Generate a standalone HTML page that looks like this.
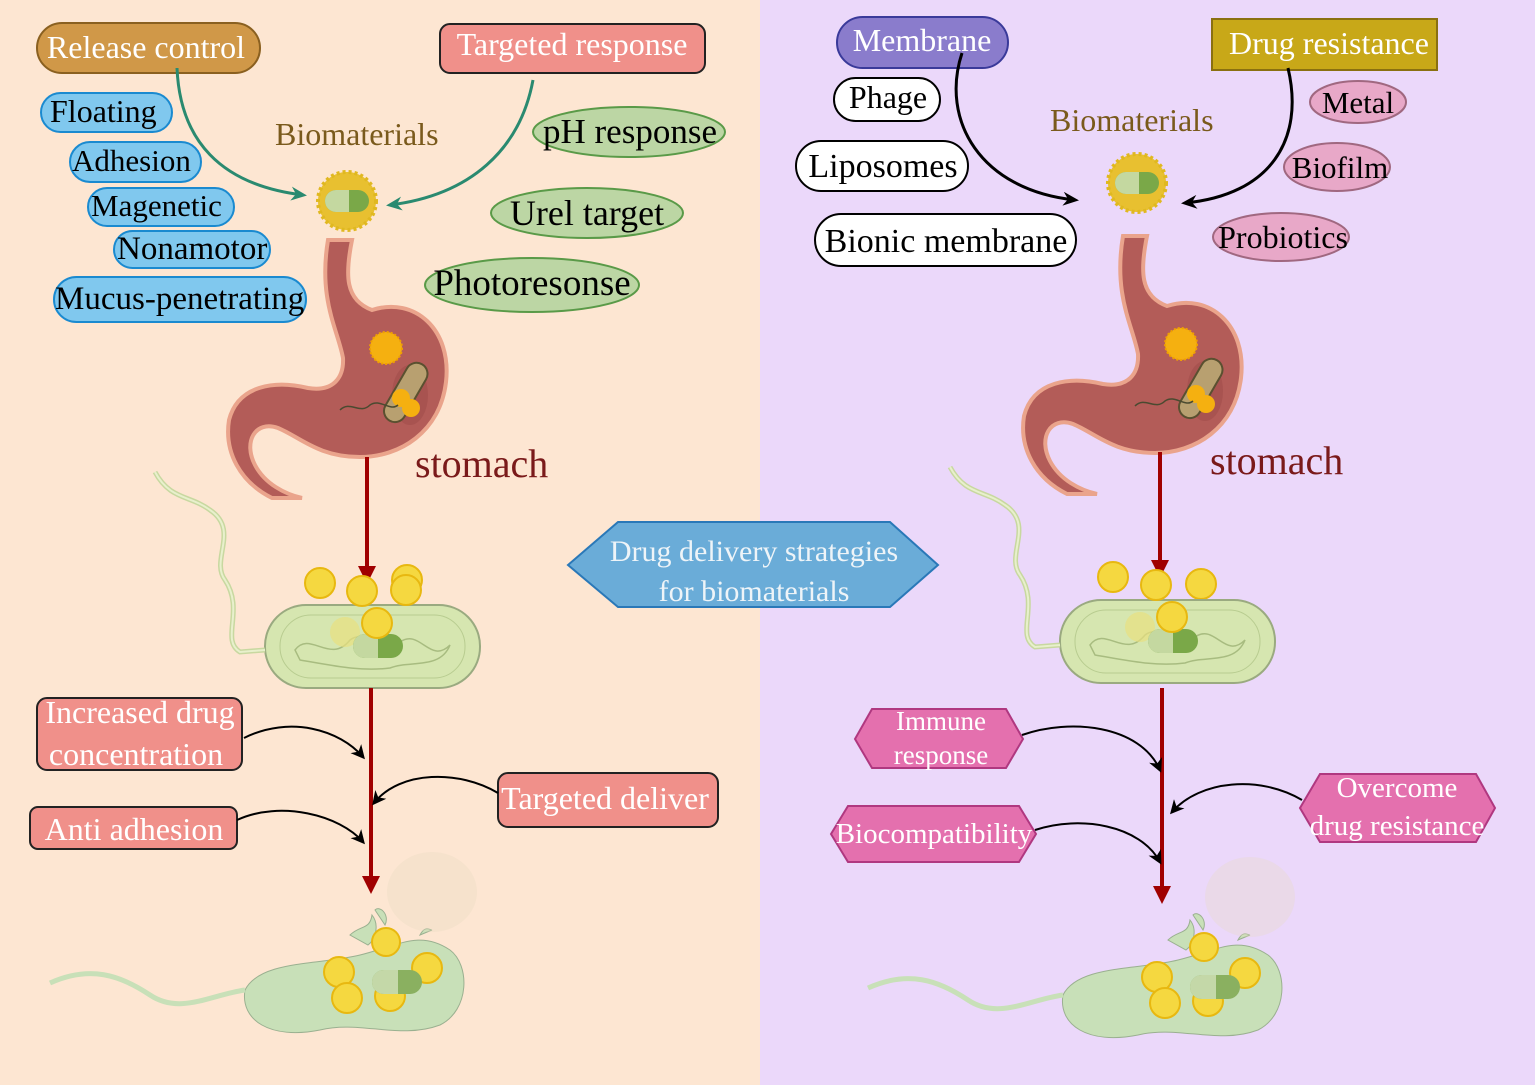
<!DOCTYPE html>
<html><head><meta charset="utf-8"><style>
html,body{margin:0;padding:0;width:1535px;height:1085px;overflow:hidden}
svg{display:block}
text{font-family:"Liberation Serif",serif}
</style></head><body>
<svg width="1535" height="1085" viewBox="0 0 1535 1085" xmlns="http://www.w3.org/2000/svg">
<defs>
<marker id="aht" markerWidth="16" markerHeight="14" refX="12" refY="7" orient="auto" markerUnits="userSpaceOnUse"><path d="M0,0 L16,7 L0,14 L5,7 Z" fill="#2a8a70"/></marker>
<marker id="ahb" markerWidth="16" markerHeight="14" refX="12" refY="7" orient="auto" markerUnits="userSpaceOnUse"><path d="M0,0 L16,7 L0,14 L5,7 Z" fill="#000"/></marker>
<marker id="ahr" markerWidth="24" markerHeight="18" refX="14" refY="9" orient="auto" markerUnits="userSpaceOnUse"><path d="M0,0 L18,9 L0,18 Z" fill="#a00000"/></marker>
<marker id="ahk" markerWidth="14" markerHeight="14" refX="11" refY="7" orient="auto" markerUnits="userSpaceOnUse"><path d="M0,0 L14,7 L0,14 L4,7 Z" fill="#000"/></marker>
<g id="capsule">
<circle cx="0" cy="0" r="29" fill="#e8c030" stroke="#e0b820" stroke-width="4" stroke-dasharray="3 3"/>
<rect x="-22" y="-11" width="44" height="22" rx="11" fill="#7aa848"/>
<path d="M-11,-11 L2,-11 L2,11 L-11,11 A11,11 0 0 1 -11,-11Z" fill="#c4d8a0"/>
</g>
<g id="stomach">
<path d="M328,240 L352,240 C345,275 345,300 372,310 C415,296 452,330 446,382 C440,432 400,457 360,457 C318,457 300,437 278,428 C255,420 243,442 255,465 C265,484 285,494 302,498 L272,498 C240,482 224,452 229,420 C238,385 275,380 308,388 C333,392 344,378 343,358 C338,330 318,300 328,240 Z" fill="#b35c58" stroke="#eaa48c" stroke-width="4"/>
<ellipse cx="410" cy="395" rx="18" ry="30" fill="#9d4a48" opacity="0.5"/>
<circle cx="386" cy="348" r="16" fill="#f5b010" stroke="#f0a000" stroke-width="2" stroke-dasharray="2 2"/>
<rect x="395" y="360" width="22" height="65" rx="11" transform="rotate(30 406 392)" fill="#b8a070" stroke="#5a5030" stroke-width="2"/>
<circle cx="401" cy="398" r="9" fill="#f5b010"/><circle cx="411" cy="408" r="9" fill="#f5b010"/>
<path d="M340,410 C350,400 360,415 370,405 C380,398 390,412 398,405" fill="none" stroke="#4a4a30" stroke-width="1.5"/>
</g>
<g id="bact">
<rect x="265" y="605" width="215" height="83" rx="41" fill="#d6e6b0" stroke="#9aaa80" stroke-width="2"/>
<rect x="280" y="615" width="185" height="63" rx="31" fill="none" stroke="#b8cc90" stroke-width="1"/>
<path d="M295,650 C310,630 330,665 350,640 C370,625 380,668 400,642 C420,628 430,665 450,645 C440,670 410,660 390,668 C360,672 330,665 300,660Z" fill="none" stroke="#a8bc80" stroke-width="1.5"/>
<circle cx="345" cy="632" r="15" fill="#e8e080" opacity="0.7"/>
<rect x="353" y="634" width="50" height="24" rx="12" fill="#7aa848"/>
<path d="M365,634 L378,634 L378,658 L365,658 A12,12 0 0 1 365,634Z" fill="#c4d8a0"/>
<path d="M265,650 L240,652 C220,640 245,610 225,580 C210,560 240,530 210,510 C190,495 170,500 155,472" fill="none" stroke="#c8d8a0" stroke-width="5"/>
<path d="M265,650 L240,652 C220,640 245,610 225,580 C210,560 240,530 210,510 C190,495 170,500 155,472" fill="none" stroke="#e8f0cc" stroke-width="2"/>
</g>
<g id="dead">
<path d="M245,990 C260,960 320,965 360,955 C400,945 420,930 450,950 C470,965 470,1010 440,1025 C400,1040 360,1020 320,1030 C270,1040 240,1020 245,990Z" fill="#c8e0b8" stroke="#9ab090" stroke-width="1"/>
<path d="M50,983 C90,965 120,975 150,995 C180,1015 210,995 245,990" fill="none" stroke="#c8e0b8" stroke-width="5"/>
<path d="M350,935 C360,925 370,930 372,915 C380,925 375,940 368,945Z M375,910 C380,905 390,915 385,925Z M420,935 C425,925 430,930 432,930Z" fill="#c8e0b8" stroke="#9ab090" stroke-width="1"/>
<ellipse cx="432" cy="892" rx="45" ry="40" fill="#e8dcc0" opacity="0.3"/>
<circle cx="386" cy="942" r="14" fill="#f5d840" stroke="#e8b810" stroke-width="2"/>
<circle cx="339" cy="972" r="15" fill="#f5d840" stroke="#e8b810" stroke-width="2"/>
<circle cx="347" cy="998" r="15" fill="#f5d840" stroke="#e8b810" stroke-width="2"/>
<circle cx="390" cy="996" r="15" fill="#f5d840" stroke="#e8b810" stroke-width="2"/>
<circle cx="427" cy="968" r="15" fill="#f5d840" stroke="#e8b810" stroke-width="2"/>
<rect x="372" y="970" width="50" height="24" rx="12" fill="#8ab060"/>
<path d="M384,970 L398,970 L398,994 L384,994 A12,12 0 0 1 384,970Z" fill="#c4d8a8"/>
</g>
</defs>

<rect x="0" y="0" width="760" height="1085" fill="#fde6d2"/>
<rect x="760" y="0" width="775" height="1085" fill="#ebd8fa"/>

<rect x="37" y="23" width="223" height="50" rx="25" fill="#d09848" stroke="#8a6020" stroke-width="2"/>
<text x="146" y="58" font-size="32" fill="#fff" text-anchor="middle">Release control</text>
<rect x="440" y="24" width="265" height="49" rx="10" fill="#f0908a" stroke="#222" stroke-width="2"/>
<text x="572" y="55" font-size="32" fill="#fff" text-anchor="middle">Targeted response</text>

<g fill="#80c8ee" stroke="#1a8ad0" stroke-width="2">
<rect x="41" y="93" width="131" height="39" rx="19.5"/>
<rect x="70" y="142" width="131" height="40" rx="20"/>
<rect x="88" y="188" width="146" height="38" rx="19"/>
<rect x="114" y="231" width="156" height="37" rx="18.5"/>
<rect x="54" y="277" width="252" height="45" rx="22.5"/>
</g>
<g fill="#000">
<text x="50" y="122" font-size="32">Floating</text>
<text x="72" y="171" font-size="31">Adhesion</text>
<text x="91" y="216" font-size="31">Magenetic</text>
<text x="117" y="259" font-size="33">Nonamotor</text>
<text x="55" y="309" font-size="33">Mucus-penetrating</text>
</g>
<g fill="#bcd6a4" stroke="#5a9a48" stroke-width="2">
<ellipse cx="629" cy="132" rx="96" ry="25"/>
<ellipse cx="587" cy="213" rx="96" ry="25"/>
<ellipse cx="532" cy="285" rx="107" ry="27"/>
</g>
<g fill="#000" text-anchor="middle">
<text x="630" y="143" font-size="35">pH response</text>
<text x="587" y="225" font-size="36">Urel target</text>
<text x="532" y="295" font-size="37">Photoresonse</text>
</g>
<text x="275" y="145" font-size="32" fill="#7a5a1c">Biomaterials</text>
<use href="#capsule" transform="translate(347,201)"/>
<path d="M177,68 C180,140 220,185 303,195" fill="none" stroke="#2a8a70" stroke-width="3" marker-end="url(#aht)"/>
<path d="M533,80 C520,150 470,195 390,205" fill="none" stroke="#2a8a70" stroke-width="3" marker-end="url(#aht)"/>

<use href="#stomach"/>
<text x="415" y="477" font-size="40" fill="#7a1a1a">stomach</text>
<line x1="367" y1="457" x2="367" y2="580" stroke="#a00000" stroke-width="4" marker-end="url(#ahr)"/>
<g fill="#f5d840" stroke="#e8b810" stroke-width="2">
<circle cx="320" cy="583" r="15"/><circle cx="407" cy="580" r="15"/>
</g>
<use href="#bact"/>
<g fill="#f5d840" stroke="#e8b810" stroke-width="2">
<circle cx="362" cy="591" r="15"/><circle cx="406" cy="590" r="15"/><circle cx="377" cy="623" r="15"/>
</g>
<line x1="371" y1="688" x2="371" y2="890" stroke="#a00000" stroke-width="4" marker-end="url(#ahr)"/>

<rect x="37" y="698" width="205" height="72" rx="10" fill="#f0908a" stroke="#222" stroke-width="2"/>
<text x="140" y="723" font-size="32" fill="#fff" text-anchor="middle">Increased drug</text>
<text x="136" y="765" font-size="32" fill="#fff" text-anchor="middle">concentration</text>
<rect x="30" y="807" width="207" height="42" rx="8" fill="#f0908a" stroke="#222" stroke-width="2"/>
<text x="134" y="840" font-size="32" fill="#fff" text-anchor="middle">Anti adhesion</text>
<rect x="498" y="773" width="220" height="54" rx="10" fill="#f0908a" stroke="#222" stroke-width="2"/>
<text x="605" y="809" font-size="32" fill="#fff" text-anchor="middle">Targeted deliver</text>
<path d="M244,738 C290,715 340,730 363,757" fill="none" stroke="#000" stroke-width="2" marker-end="url(#ahk)"/>
<path d="M237,820 C280,800 340,815 363,842" fill="none" stroke="#000" stroke-width="2" marker-end="url(#ahk)"/>
<path d="M498,793 C460,770 400,770 374,803" fill="none" stroke="#000" stroke-width="2" marker-end="url(#ahk)"/>

<use href="#dead"/>

<polygon points="568,565 618,522 890,522 938,565 890,607 618,607" fill="#6aacd8" stroke="#2a78b8" stroke-width="2"/>
<text x="754" y="561" font-size="30" fill="#eef4f8" text-anchor="middle">Drug delivery strategies</text>
<text x="754" y="601" font-size="30" fill="#eef4f8" text-anchor="middle">for biomaterials</text>

<rect x="837" y="17" width="171" height="51" rx="25.5" fill="#8a7ccc" stroke="#3a3a9a" stroke-width="2"/>
<text x="922" y="51" font-size="32" fill="#fff" text-anchor="middle">Membrane</text>
<rect x="1212" y="19" width="225" height="51" fill="#c8a818" stroke="#8a7010" stroke-width="2"/>
<text x="1329" y="54" font-size="32" fill="#fff" text-anchor="middle">Drug resistance</text>
<g fill="#fff" stroke="#000" stroke-width="2">
<rect x="834" y="78" width="106" height="43" rx="21.5"/>
<rect x="796" y="141" width="172" height="50" rx="25"/>
<rect x="815" y="214" width="261" height="52" rx="26"/>
</g>
<g fill="#000" text-anchor="middle">
<text x="888" y="108" font-size="32">Phage</text>
<text x="883" y="177" font-size="34">Liposomes</text>
<text x="946" y="252" font-size="34">Bionic membrane</text>
</g>
<g fill="#e8a8c8" stroke="#a06880" stroke-width="2">
<ellipse cx="1358" cy="102" rx="48" ry="21"/>
<ellipse cx="1337" cy="167" rx="53" ry="24"/>
<ellipse cx="1281" cy="237" rx="68" ry="24"/>
</g>
<g fill="#000" text-anchor="middle">
<text x="1358" y="113" font-size="31">Metal</text>
<text x="1340" y="178" font-size="31">Biofilm</text>
<text x="1283" y="248" font-size="32">Probiotics</text>
</g>
<text x="1050" y="131" font-size="32" fill="#7a5a1c">Biomaterials</text>
<use href="#capsule" transform="translate(1137,183)"/>
<path d="M962,53 C940,120 980,190 1075,200" fill="none" stroke="#000" stroke-width="3" marker-end="url(#ahb)"/>
<path d="M1288,68 C1305,140 1270,195 1185,203" fill="none" stroke="#000" stroke-width="3" marker-end="url(#ahb)"/>

<use href="#stomach" transform="translate(795,-4)"/>
<text x="1210" y="474" font-size="40" fill="#7a1a1a">stomach</text>
<line x1="1160" y1="452" x2="1160" y2="574" stroke="#a00000" stroke-width="4" marker-end="url(#ahr)"/>
<g fill="#f5d840" stroke="#e8b810" stroke-width="2">
<circle cx="1113" cy="577" r="15"/><circle cx="1201" cy="584" r="15"/>
</g>
<use href="#bact" transform="translate(795,-5)"/>
<g fill="#f5d840" stroke="#e8b810" stroke-width="2">
<circle cx="1156" cy="585" r="15"/><circle cx="1172" cy="617" r="15"/>
</g>
<line x1="1162" y1="688" x2="1162" y2="900" stroke="#a00000" stroke-width="4" marker-end="url(#ahr)"/>

<g fill="#e470ae" stroke="#b03880" stroke-width="2">
<polygon points="855,739 872,709 1006,709 1023,739 1006,768 872,768"/>
<polygon points="831,834 848,806 1019,806 1036,834 1019,862 848,862"/>
<polygon points="1300,808 1320,774 1476,774 1495,808 1476,842 1320,842"/>
</g>
<g fill="#fff" text-anchor="middle">
<text x="941" y="730" font-size="27">Immune</text>
<text x="941" y="764" font-size="27">response</text>
<text x="934" y="843" font-size="29">Biocompatibility</text>
<text x="1397" y="797" font-size="29">Overcome</text>
<text x="1397" y="835" font-size="29">drug resistance</text>
</g>
<path d="M1022,735 C1070,718 1140,725 1160,770" fill="none" stroke="#000" stroke-width="2" marker-end="url(#ahk)"/>
<path d="M1035,830 C1080,815 1140,825 1160,862" fill="none" stroke="#000" stroke-width="2" marker-end="url(#ahk)"/>
<path d="M1302,800 C1260,775 1200,780 1172,812" fill="none" stroke="#000" stroke-width="2" marker-end="url(#ahk)"/>

<use href="#dead" transform="translate(818,5)"/>
</svg>
</body></html>
